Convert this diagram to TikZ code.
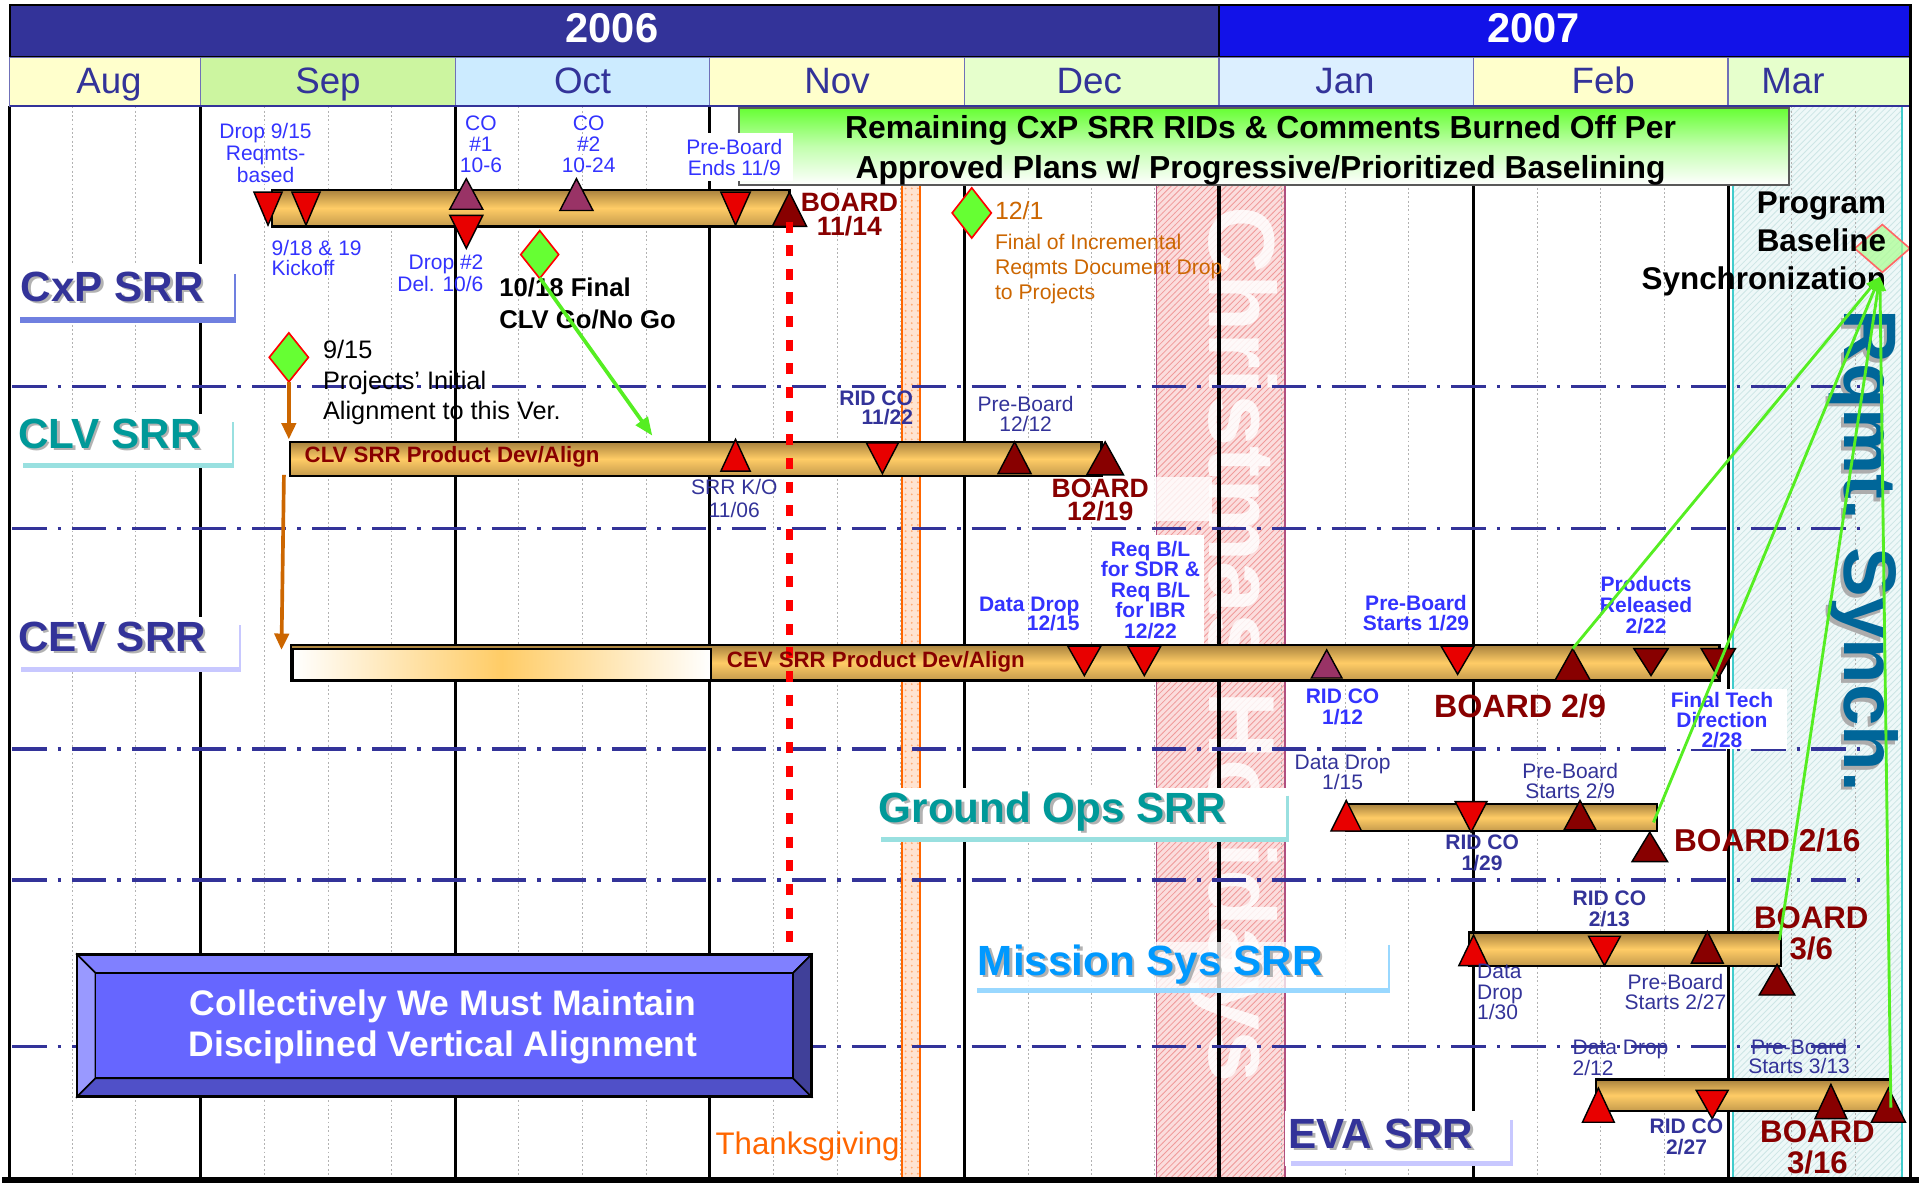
\documentclass[tikz,border=0pt]{standalone}
\usepackage{fontspec}
\setmainfont{Liberation Sans}
\usetikzlibrary{patterns,arrows.meta}
\definecolor{cYrA}{HTML}{333399}
\definecolor{cYrB}{HTML}{1212E8}
\definecolor{cMy}{HTML}{FFFFCC}
\definecolor{cMg}{HTML}{CCF5A0}
\definecolor{cMgl}{HTML}{E6FFCC}
\definecolor{cMb}{HTML}{CCEBFF}
\definecolor{cMbl}{HTML}{DCEFFF}
\definecolor{cNavy}{HTML}{333399}
\definecolor{cBlue}{HTML}{3333FF}
\definecolor{cDred}{HTML}{880000}
\definecolor{cRed}{HTML}{E80000}
\definecolor{cPurp}{HTML}{993366}
\definecolor{cOrg}{HTML}{CC6600}
\definecolor{cThx}{HTML}{FF6600}
\definecolor{cTeal}{HTML}{009999}
\definecolor{cSky}{HTML}{0099FF}
\definecolor{cRq}{HTML}{006699}
\definecolor{cGrn}{HTML}{66FF33}
\definecolor{cLine}{HTML}{55EE22}
\definecolor{cGoldD}{HTML}{A8823E}
\definecolor{cGoldL}{HTML}{FFCC66}
\definecolor{cGoldB}{HTML}{C49A4C}
\definecolor{cBoxBl}{HTML}{7080E0}
\definecolor{cBoxTl}{HTML}{99E0E0}
\definecolor{cBoxLv}{HTML}{C8C8FF}
\definecolor{cBoxSk}{HTML}{99D8FF}
\definecolor{cXm}{HTML}{FBDDDD}
\definecolor{cXmL}{HTML}{F09A9A}
\definecolor{cXmB}{HTML}{B05080}
\definecolor{cMar}{HTML}{EEF8F8}
\definecolor{cMarL}{HTML}{CDE6E6}
\definecolor{cMarB}{HTML}{40CCCC}
\newcommand\fsz[2]{\fontsize{#1}{#2}\selectfont\lineskiplimit=-30pt\lineskip=0pt\relax}
\newcommand\mkdn[5]{\filldraw[fill=#1,draw=black,line width=0.7pt] ({#2-#5/2},#3) -- ({#2+#5/2},#3) -- (#2,#4) -- cycle;}
\newcommand\mkup[5]{\filldraw[fill=#1,draw=black,line width=0.7pt] ({#2-#5/2},#4) -- ({#2+#5/2},#4) -- (#2,#3) -- cycle;}
\newcommand\mkdia[5]{\filldraw[#5] ({#1-#3/2},#2) -- (#1,{#2-#4/2}) -- ({#1+#3/2},#2) -- (#1,{#2+#4/2}) -- cycle;}
\newcommand\mkbar[4]{\draw[line width=1.1pt, top color=cGoldD, bottom color=cGoldB, middle color=cGoldL] (#1,#2) rectangle (#3,#4);}
\begin{document}
\begin{tikzpicture}[x=0.6pt,y=-0.6pt,
  lbl/.style={inner sep=0pt, outer sep=0pt},
  sm/.style={lbl, anchor=north, align=center, font=\fsz{10.3}{#1}},
  smb/.style={lbl, anchor=north, align=center, font=\fsz{10.3}{#1}\bfseries},
  wk/.style={draw=gray!60, line width=0.45pt, dash pattern=on 0.9pt off 1.2pt},
  mon/.style={draw=black, line width=1.5pt},
  sepl/.style={draw=cNavy, line width=1.6pt, dash pattern=on 16.8pt off 5.4pt on 1.8pt off 5.4pt},
  srrf/.style={lbl, anchor=north west, font=\fsz{20.7}{24}\bfseries},
  board/.style={lbl, anchor=north, align=center, text=cDred, font=\fsz{#1}{15}\bfseries},
  gdia/.style={fill=cGrn, draw=red, line width=0.8pt},
  orarrow/.style={draw=cOrg, line width=1.8pt, -{Triangle[length=8pt,width=7pt]}},
  grarrow/.style={draw=cLine, line width=1.4pt, -{Triangle[length=7pt,width=5.5pt]}}
]
\useasboundingbox (0,0) rectangle (1568,969);
\fill[white] (0,0) rectangle (1568,969);

% ---------- bands ----------
\fill[cXm] (945,87) rectangle (1050,964);
\fill[pattern=north east lines, pattern color=cXmL] (945,87) rectangle (1050,964);
\draw[cXmB, line width=0.8pt] (945,87) -- (945,964) (1050,87) -- (1050,964);
\fill[cMar] (1416,87) rectangle (1554,964);
\fill[pattern=north east lines, pattern color=cMarL] (1416,87) rectangle (1554,964);
\draw[cMarB, line width=0.9pt] (1416,87) -- (1416,964) (1554,87) -- (1554,964);
\fill[cThx!18] (737,87) rectangle (752,964);
\fill[pattern=dots, pattern color=cThx!55] (737,87) rectangle (752,964);
\draw[cThx, line width=0.9pt] (737,87) -- (737,964) (752,87) -- (752,964);
\node[lbl, rotate=-90, text=white, opacity=0.85, font=\fsz{46}{50}\bfseries] (xmas) at (1008,527) {Christmas Holidays};

% ---------- grid ----------
\foreach \x in {59,111,216,268,320,424,476,528,632,684,736,840,892,943,1047,1099,1151,1256,1308,1360,1464,1516}
  \draw[wk] (\x,87) -- (\x,964);
\foreach \x in {164,372,580,788,996,1204,1412}
  \draw[mon] (\x,87) -- (\x,964);
\draw[mon] (8,87) -- (8,964);

% ---------- header ----------
\draw[fill=cYrA, line width=1.2pt] (8,4) rectangle (996,47);
\draw[fill=cYrB, line width=1.2pt] (996,4) rectangle (1561,47);
\node[lbl, anchor=base, text=white, font=\fsz{20.4}{24}\bfseries] (t2006) at (500,35) {2006};
\node[lbl, anchor=base, text=white, font=\fsz{20.4}{24}\bfseries] (t2007) at (1253,35) {2007};
\foreach \a/\b/\c/\m/\cx in {8/164/cMy/Aug/89, 164/372/cMg/Sep/268, 372/580/cMb/Oct/476, 580/788/cMy/Nov/684, 788/996/cMgl/Dec/890, 996/1204/cMbl/Jan/1099, 1204/1412/cMy/Feb/1310, 1412/1561/cMgl/Mar/1465}{
  \draw[fill=\c, draw=cNavy!70, line width=0.6pt] (\a,47) rectangle (\b,87);
  \node[lbl, anchor=base, text=cNavy, font=\fsz{18}{20}] (m\m) at (\cx,76) {\m};
}
\draw[cNavy, line width=1pt] (8,87) -- (1561,87);

% ---------- separators ----------
\foreach \y in {316,432,612,719,855}
  \draw[sepl] (10,\y) -- (1520,\y);

% ---------- green banner ----------
\draw[draw=gray!70!black, line width=0.8pt, top color=cGrn, bottom color=white, middle color=cGrn!40!white] (604,88) rectangle (1462,151);
\node[lbl, anchor=north, align=center, font=\fsz{15.6}{19.8}\bfseries] (banner) at (1030,94) {Remaining CxP SRR RIDs \& Comments Burned Off Per\\Approved Plans w/ Progressive/Prioritized Baselining};

% ---------- label boxes ----------
\fill[white] (12,216) rectangle (192,264);
\fill[cBoxBl] (16,259) rectangle (192,264);
\draw[cBoxBl, line width=0.8pt] (192,224) -- (192,264);
\fill[white] (12,338) rectangle (190,382);
\fill[cBoxTl] (19,378) rectangle (190,382);
\draw[cBoxTl, line width=1pt] (190,345) -- (190,382);
\fill[white] (12,504) rectangle (197,549);
\fill[cBoxLv] (17,545) rectangle (197,549);
\draw[cBoxLv, line width=1pt] (196,511) -- (196,549);
\fill[white] (716,644) rectangle (1053,688);
\fill[cBoxTl] (720,684) rectangle (1053,688);
\draw[cBoxTl, line width=1pt] (1052,650) -- (1052,688);
\fill[white, opacity=0.75] (796,770) rectangle (1136,811);
\fill[cBoxSk] (798,807) rectangle (1136,811);
\draw[cBoxSk, line width=1pt] (1135,772) -- (1135,811);
\fill[white] (1050,908) rectangle (1236,953);
\fill[cBoxLv] (1055,949) rectangle (1236,953);
\draw[cBoxLv, line width=1pt] (1235,915) -- (1235,953);

\node[srrf, text=gray!60] (cxpS) at (19,224) {CxP SRR};
\node[srrf, text=cNavy] (cxp) at (17,222) {CxP SRR};
\node[srrf, text=gray!60] (clvS) at (17,344) {CLV SRR};
\node[srrf, text=cTeal] (clv) at (15,342) {CLV SRR};
\node[srrf, text=gray!60] (cevS) at (17,510) {CEV SRR};
\node[srrf, text=cNavy] (cev) at (15,508) {CEV SRR};
\node[srrf, text=gray!60] (gopS) at (720,649) {Ground Ops SRR};
\node[srrf, text=cTeal] (gop) at (718,647) {Ground Ops SRR};
\node[srrf, text=gray!60] (msnS) at (801,774) {Mission Sys SRR};
\node[srrf, text=cSky] (msn) at (799,772) {Mission Sys SRR};
\node[srrf, text=gray!60] (evaS) at (1055,916) {EVA SRR};
\node[srrf, text=cNavy] (eva) at (1053,914) {EVA SRR};

% ---------- white backs for labels ----------
\fill[white] (550,109) rectangle (648,148);
\fill[white] (895,437) rectangle (984,527);
\fill[white] (1362,563) rectangle (1460,612);
\fill[white, opacity=0.8] (940,390) rectangle (990,426);

% ---------- bars ----------
\mkbar{222}{155}{645}{185}
\mkbar{237}{361}{900}{389}
\mkbar{238}{527}{1405}{556}
\draw[line width=1pt, left color=white, right color=white, middle color=cGoldL] (239,530) rectangle (581,556);
\mkbar{1100}{657}{1354}{679}
\mkbar{1200}{762}{1455}{789}
\mkbar{1304}{882}{1545}{908}

% ---------- markers ----------
\mkdn{cRed}{219}{157}{184}{23}
\mkdn{cRed}{250}{157}{184}{23}
\mkup{cPurp}{381}{146}{171}{27}
\mkdn{cRed}{381}{176}{203}{27}
\mkup{cPurp}{471}{146}{172}{27}
\mkdn{cRed}{601}{157}{184}{24}
\mkup{cDred}{645}{157}{185}{28}
\mkup{cRed}{601}{359}{385}{24}
\mkdn{cRed}{721}{362}{387}{26}
\mkup{cDred}{829}{361}{387}{27}
\mkup{cDred}{903}{361}{388}{30}
\mkdn{cRed}{886}{528}{552}{27}
\mkdn{cRed}{935}{528}{552}{27}
\mkup{cPurp}{1084}{531}{554}{25}
\mkdn{cRed}{1191}{528}{551}{27}
\mkup{cDred}{1285}{530}{556}{29}
\mkdn{cDred}{1349}{530}{552}{28}
\mkdn{cDred}{1404}{530}{554}{28}
\mkup{cRed}{1100}{654}{679}{25}
\mkdn{cRed}{1202}{655}{680}{26}
\mkup{cDred}{1291}{654}{678}{26}
\mkup{cDred}{1348}{680}{704}{29}
\mkup{cRed}{1204}{764}{789}{24}
\mkdn{cRed}{1311}{765}{789}{26}
\mkup{cDred}{1395}{761}{787}{26}
\mkup{cDred}{1452}{788}{813}{29}
\mkup{cRed}{1306}{889}{917}{26}
\mkdn{cRed}{1399}{891}{914}{26}
\mkup{cDred}{1496}{886}{914}{26}
\mkup{cDred}{1543}{889}{917}{28}

% ---------- diamonds ----------
\mkdia{441}{208}{31}{39}{gdia}
\mkdia{794}{174}{32}{41}{gdia}
\mkdia{236}{292}{32}{40}{gdia}
\mkdia{1538}{203}{45}{39}{fill=cGrn!55, fill opacity=0.7, draw=red!60, line width=0.8pt}

% ---------- red dotted board line ----------
\coordinate (rdTop) at (645,181);
\coordinate (rdBot) at (645,776);
\draw[red, line width=3.3pt, dash pattern=on 5.4pt off 6.2pt] (rdTop) -- (rdBot);

% ---------- Rqmt Synch ----------
\node[lbl, rotate=-90, text=gray!65, font=\fsz{36.5}{40}\bfseries] (rqS) at (1520,453) {Rqmt. Synch.};
\node[lbl, rotate=-90, text=cRq, font=\fsz{36.5}{40}\bfseries] (rq) at (1523,450) {Rqmt. Synch.};

% ---------- labels ----------
\node[sm=10.6, text=cBlue] (l915) at (217,101) {Drop 9/15\\Reqmts-\\based};
\node[sm=10.2, text=cBlue] (lco1) at (393,95) {CO\\\#1\\10-6};
\node[sm=10.2, text=cBlue] (lco2) at (481,95) {CO\\\#2\\10-24};
\node[sm=10.2, text=cBlue] (lpb119) at (600,114) {Pre-Board\\Ends 11/9};
\node[sm=9.9, text=cBlue, anchor=north west, align=left] (lko) at (222,196) {9/18 \& 19\\Kickoff};
\node[sm=10.8, text=cBlue, anchor=north east, align=right] (ld2) at (395,208) {Drop \#2\\Del. 10/6};
\node[board=13, font=\fsz{13}{11.4}\bfseries] (b1114) at (694,158) {BOARD\\11/14};
\node[lbl, anchor=north west, align=left, font=\fsz{12.6}{15.6}\bfseries] (g1018) at (408,227) {10/18 Final\\CLV Go/No Go};
\node[lbl, anchor=north west, text=cOrg, font=\fsz{12.2}{14}] (t121) at (813,165) {12/1};
\node[lbl, anchor=north west, align=left, text=cOrg, font=\fsz{10.4}{12.3}] (t121b) at (813,191) {Final of Incremental\\Reqmts Document Drop\\to Projects};
\node[lbl, anchor=north east, align=right, font=\fsz{15.4}{18.6}\bfseries] (pbs) at (1541,157) {Program\\Baseline\\Synchronization};
\node[lbl, anchor=north west, align=left, font=\fsz{12.4}{15}] (t915) at (264,278) {9/15\\Projects’ Initial\\Alignment to this Ver.};

\node[smb=9.3, text=cNavy, anchor=north east, align=right] (rc1122) at (746,319) {RID CO\\11/22};
\node[sm=9.6, text=cNavy] (pb1212) at (838,324) {Pre-Board\\12/12};
\node[sm=10.8, text=cNavy] (srrko) at (600,392) {SRR K/O\\11/06};
\node[board=13, font=\fsz{13}{11.4}\bfseries] (b1219) at (899,391) {BOARD\\12/19};
\node[lbl, anchor=north west, text=cDred, font=\fsz{10.9}{12}\bfseries] (clvpd) at (249,365) {CLV SRR Product Dev/Align};
\node[lbl, anchor=north west, text=cDred, font=\fsz{10.9}{12}\bfseries] (cevpd) at (594,532) {CEV SRR Product Dev/Align};

\node[smb=9, text=cBlue, anchor=north east, align=right] (dd1215) at (882,488) {Data Drop\\12/15};
\node[smb=10.1, text=cBlue] (reqbl) at (940,442) {Req B/L\\for SDR \&\\Req B/L\\for IBR\\12/22};
\node[smb=10.2, text=cBlue] (pb129) at (1157,486) {Pre-Board\\Starts 1/29};
\node[smb=10.2, text=cBlue] (prodrel) at (1345,471) {Products\\Released\\2/22};
\node[smb=10.2, text=cBlue] (rc112) at (1097,563) {RID CO\\1/12};
\node[board=15.8] (b29) at (1242,567) {BOARD 2/9};
\node[smb=9.6, text=cBlue] (ftd) at (1407,566) {Final Tech\\Direction\\2/28};

\node[sm=9.6, text=cNavy] (dd115) at (1097,617) {Data Drop\\1/15};
\node[sm=9.6, text=cNavy] (pb29) at (1283,624) {Pre-Board\\Starts 2/9};
\node[smb=10.2, text=cNavy] (rc129) at (1211,682) {RID CO\\1/29};
\node[board=15.5] (b216) at (1444,677) {BOARD 2/16};

\node[smb=10.2, text=cNavy] (rc213) at (1315,728) {RID CO\\2/13};
\node[board=15.3] (b36) at (1480,741) {BOARD\\3/6};
\node[sm=9.9, text=cNavy, anchor=north west, align=left] (dd130) at (1207,788) {Data\\Drop\\1/30};
\node[sm=9.6, text=cNavy] (pb227) at (1369,796) {Pre-Board\\Starts 2/27};

\node[sm=10.2, text=cNavy, anchor=north west, align=left] (dd212) at (1285,850) {Data Drop\\2/12};
\node[sm=9.6, text=cNavy] (pb313) at (1470,849) {Pre-Board\\Starts 3/13};
\node[smb=10.2, text=cNavy] (rc227) at (1378,914) {RID CO\\2/27};
\node[board=15.3] (b316) at (1485,916) {BOARD\\3/16};

\node[lbl, anchor=north east, text=cThx, font=\fsz{15.3}{17}] (thx) at (735,925) {Thanksgiving};

% ---------- arrows ----------
\coordinate (o1s) at (236,312); \coordinate (o1e) at (236,359);
\coordinate (o2s) at (232,388); \coordinate (o2e) at (230,531);
\draw[orarrow] (o1s) -- (o1e);
\draw[orarrow] (o2s) -- (o2e);
\coordinate (gA) at (441,227); \coordinate (gB) at (533,356);
\draw[draw=cLine, line width=1.8pt, -{Triangle[length=9pt,width=7pt]}] (gA) -- (gB);
\coordinate (pTip) at (1536,226);
\coordinate (sPR) at (1285,530);
\coordinate (sGO) at (1351,672);
\coordinate (sMS) at (1454,768);
\coordinate (sEV) at (1545,905);
\draw[grarrow] (sPR) -- (pTip);
\draw[grarrow] (sGO) -- (pTip);
\draw[grarrow] (sMS) -- (pTip);
\draw[grarrow] (sEV) -- (pTip);

% ---------- bevel box ----------
\filldraw[fill={rgb,255:red,128;green,128;blue,255}, draw=black, line width=0.8pt] (63,780) -- (663,780) -- (648,795) -- (78,795) -- cycle;
\filldraw[fill={rgb,255:red,153;green,153;blue,255}, draw=black, line width=0.8pt] (63,780) -- (78,795) -- (78,881) -- (63,896) -- cycle;
\filldraw[fill={rgb,255:red,80;green,80;blue,200}, draw=black, line width=0.8pt] (63,896) -- (78,881) -- (648,881) -- (663,896) -- cycle;
\filldraw[fill={rgb,255:red,64;green,64;blue,153}, draw=black, line width=0.8pt] (663,780) -- (663,896) -- (648,881) -- (648,795) -- cycle;
\filldraw[fill={rgb,255:red,102;green,102;blue,255}, draw=black, line width=0.8pt] (78,795) rectangle (648,881);
\draw[black, line width=1.2pt] (63,780) rectangle (663,896);
\node[lbl, anchor=north, align=center, text=white, font=\fsz{17.4}{19.8}\bfseries] (coll) at (362,809) {Collectively We Must Maintain\\Disciplined Vertical Alignment};

% ---------- frame ----------
\draw[black, line width=1.5pt] (1561,4) -- (1561,964);
\draw[black, line width=3pt] (2,964) -- (1568,964);
\end{tikzpicture}
\end{document}
